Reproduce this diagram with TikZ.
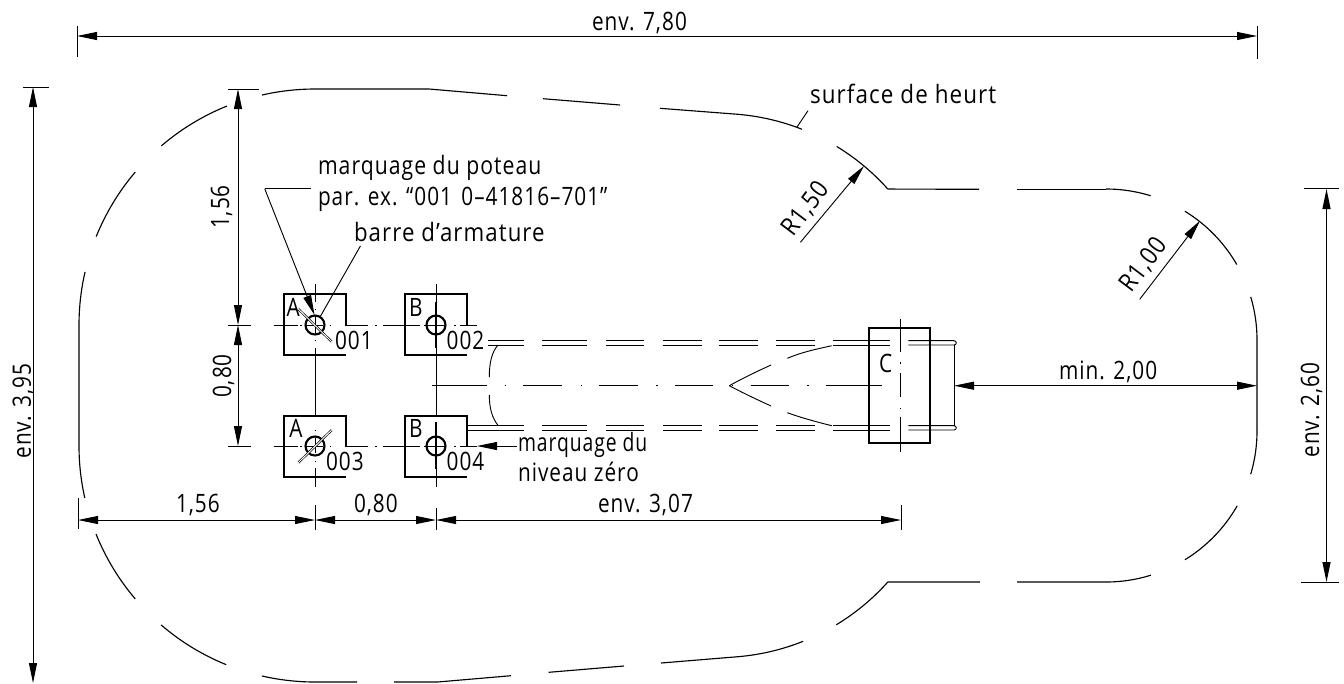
\documentclass[tikz,border=0pt]{standalone}
\usepackage{fontspec}
\setmainfont[FakeStretch=0.82,LetterSpace=4]{Open Sans}
\usetikzlibrary{arrows.meta}
\newcommand{\arcseg}[5]{plot[domain=#4:#5,samples=24,smooth] ({#1+#3*cos(\x)},{#2-#3*sin(\x)})}
\tikzset{
  x=.75pt,y=-.75pt,
  thinl/.style={line width=.7pt,line cap=butt},
  contour/.style={line width=.85pt,line join=round},
  bold/.style={line width=1.6pt,line join=miter},
  cl/.style={line width=.6pt},
  dimtip/.style={-{Triangle[length=15pt,width=6pt]},line width=.7pt},
  dimboth/.style={{Triangle[length=15pt,width=6pt]}-{Triangle[length=15pt,width=6pt]},line width=.7pt},
  txt/.style={inner sep=0,outer sep=0,font=\fontsize{19}{19}\selectfont,anchor=base west,text=black},
  rtxt/.style={inner sep=0,outer sep=0,font=\fontsize{19}{19}\selectfont,anchor=base,rotate=90},
}
\begin{document}
\begin{tikzpicture}
\useasboundingbox (0,0) rectangle (1344,683);
% contour
\begin{scope}[contour]
\draw \arcseg{315}{325}{236}{103}{90} -- (429,89) -- (507,95.7);
\draw (543,98.7) -- (620,105);
\draw (660,108.3) -- (738,114.3);
\draw \arcseg{719}{340}{226.5}{85.2}{68.5};
\draw \arcseg{719}{340}{226.5}{58.7}{41.8} -- (979,189.3) ;
\draw (1017,189.3) -- (1106,189.3);
\draw \arcseg{1106}{340}{151}{90}{72.8};
\draw \arcseg{1106}{340}{151}{58.5}{30};
\draw \arcseg{1106}{340}{151}{16.6}{0} -- (1257,431);
\draw \arcseg{1106}{431}{151}{0}{-16.6};
\draw \arcseg{1106}{431}{151}{-29.7}{-58.5};
\draw \arcseg{1106}{431}{151}{-72.7}{-90} -- (1017,582);
\draw \arcseg{719}{431}{226.5}{-58.8}{-41.8} -- (980,582);
\draw \arcseg{719}{431}{226.5}{-68.2}{-85.2} -- (661,663);
\draw (624,666) -- (548.6,672.3);
\draw (511,675.7) -- (437.5,682) -- (394,682);
\draw \arcseg{315}{446}{236}{257}{270} -- (357,682);
\draw \arcseg{315}{446}{236}{247.9}{229.3};
\draw \arcseg{315}{446}{236}{220.4}{201.9};
\draw \arcseg{315}{446}{236}{192.7}{180} -- (79,325);
\draw \arcseg{315}{325}{236}{180}{167};
\draw \arcseg{315}{325}{236}{158}{139.6};
\draw \arcseg{315}{325}{236}{130.6}{111.9};
\end{scope}
% centre lines
\begin{scope}[cl]
\foreach \yy in {325,446} {
  \draw (273.5,\yy) -- (298,\yy) (300,\yy) -- (301.5,\yy) (306,\yy) -- (323,\yy) (329.5,\yy) -- (331,\yy)
        (345,\yy) -- (368,\yy) (375,\yy) -- (376.5,\yy) (383,\yy) -- (420,\yy) (424,\yy) -- (425.5,\yy)
        (426,\yy) -- (446,\yy) (454,\yy) -- (455.5,\yy) (460,\yy) -- (477,\yy);
}
\foreach \xx in {315,436} {
  \draw (\xx,284) -- (\xx,302) (\xx,308.5) -- (\xx,310) (\xx,316) -- (\xx,334) (\xx,339.5) -- (\xx,341)
        (\xx,348) -- (\xx,416) (\xx,429.5) -- (\xx,431) (\xx,438) -- (\xx,453) (\xx,460.5) -- (\xx,462)
        (\xx,468) -- (\xx,487);
}
\draw (431.7,385.7) -- (486.7,385.7) (504.5,385.7) -- (506,385.7) (523.3,385.7) -- (562.3,385.7)
      (580.5,385.7) -- (582,385.7) (599.3,385.7) -- (637.7,385.7) (656,385.7) -- (657.5,385.7)
      (675,385.7) -- (713.3,385.7) (731.5,385.7) -- (733,385.7) (750.7,385.7) -- (789,385.7)
      (807,385.7) -- (808.5,385.7) (826,385.7) -- (881.7,385.7);
\draw (900,319.3) -- (900,351.7) (900,362) -- (900,363.5) (900,373) -- (900,397) (900,407.5) -- (900,409) (900,416.7) -- (900,451.7);
\end{scope}
% dashed double lines
\begin{scope}[thinl]
\foreach \ya/\yb in {340.7/345,425.7/430} {
  \foreach \xa/\xb in {542/587.3,606/644.3,662.7/701.7,719.3/758.3,776/815,833.3/890} {
    \draw (\xa,\ya) -- (\xb,\ya) (\xa,\yb) -- (\xb,\yb);
  }
}
\draw (488,340.7) -- (524,340.7) (488,345) -- (524,345);
\draw (466.7,425.7) -- (524,425.7) (466.7,430) -- (524,430);
\draw (908.3,340.7) -- (954,340.7) .. controls (957,340.7) and (957,345) .. (954,345) -- (908.3,345);
\draw (908.3,425.7) -- (954,425.7) .. controls (957,425.7) and (957,430) .. (954,430) -- (908.3,430);
\draw (954,345) -- (954,425.7);
\draw (498,345) .. controls (492,352) and (489.3,362) .. (489.3,377);
\draw (489.3,395) .. controls (489.3,408) and (492,418) .. (498.3,425.7);
\draw (729.3,385.7) .. controls (745,377) and (758,371) .. (771,365);
\draw (787.3,358.3) .. controls (802,352) and (817,349) .. (831.7,345.7);
\draw (729.3,385.7) .. controls (745,394) and (758,400) .. (771,406);
\draw (787.3,412.7) .. controls (802,418) and (817,422) .. (831.7,425.7);
\end{scope}
% boxes
\begin{scope}[bold]
\draw (345.7,325) -- (345.7,294.3) -- (284,294.3) -- (284,355.3) -- (345.7,355.3);
\draw (466.7,325) -- (466.7,294.3) -- (405.3,294.3) -- (405.3,355.3) -- (466.7,355.3);
\draw (345.7,446) -- (345.7,415.7) -- (284,415.7) -- (284,476.7) -- (345.7,476.7);
\draw (466.7,446) -- (466.7,415.7) -- (405.3,415.7) -- (405.3,476.7) -- (466.7,476.7);
\draw (869.3,328.3) rectangle (930,442.7);
\draw (315,325) circle (9.5);
\draw (436,325) circle (9.5);
\draw (315,446) circle (9.5);
\draw (436,446) circle (9.5);
\end{scope}
\draw[line width=1.1pt] (436,301.7) -- (436,348);
\draw[line width=1.1pt] (436,421.7) -- (436,469);
\draw[line width=.5pt,double,double distance=.7pt] (298.3,309) -- (331.7,341.7);
\draw[line width=.5pt,double,double distance=.7pt] (298.3,462.7) -- (331.7,430);
% dimensions
\draw[dimboth] (77,36) -- (1257,36);
\draw[thinl] (77,26) -- (77,57) (1257,26) -- (1257,59);
\draw[dimboth] (33,87) -- (33,683);
\draw[thinl] (23,87) -- (49,87);
\draw[dimboth] (238,89) -- (238,325);
\draw[dimboth] (238,325) -- (238,446);
\draw[thinl] (228,89) -- (259,89) (228,325) -- (251,325) (228,446) -- (251,446);
\draw[dimboth] (78,520) -- (315,520);
\draw[dimboth] (315,520) -- (436,520);
\draw[dimboth] (436,520) -- (901,520);
\draw[thinl] (78,498) -- (78,529) (315,505) -- (315,530) (436,508) -- (436,530) (901,505) -- (901,530);
\draw[dimboth] (1326.5,189) -- (1326.5,582);
\draw[thinl] (1304,188.5) -- (1339,188.5) (1301,582.5) -- (1339,582.5);
\draw[dimboth] (1257,385.7) -- (954,385.7);
\draw[dimtip] (800.4,242.3) -- (864,166);
\draw[dimtip] (1139.7,299.3) -- (1200,220.7);
% leaders
\draw[thinl] (311.4,188.7) -- (264.7,188.7);
\draw[dimtip] (264.7,188.7) -- (314.5,315);
\draw[thinl] (360.4,246) -- (320,317);
\draw[thinl] (808,110.7) -- (797,127);
\draw[dimtip] (517,446) -- (477,446);
% labels
\node[txt] (t780) at (592,30) {env. 7,80};
\node[txt,xscale=1.08] (tsurf) at (810,103) {surface de heurt};
\node[txt,xscale=1.02] (tm1) at (318,174) {marquage du poteau};
\node[txt] (tm2) at (318,205) {par. ex. ``001\hspace{7pt}0--41816--701"};
\node[txt,xscale=1.07] (tb) at (354,241.7) {barre d'armature};
\node[rtxt] (t156v) at (229,207) {1,56};
\node[rtxt] (t080v) at (231,376) {0,80};
\node[rtxt] (t395) at (31,411) {env. 3,95};
\node[rtxt] (t260) at (1319,410) {env. 2,60};
\node[txt,anchor=center,rotate=53,xscale=1.06] (r150) at (806,209) {R1,50};
\node[txt,anchor=center,rotate=53,xscale=1.06] (r100) at (1144,265) {R1,00};
\node[txt] (t156h) at (176,512.7) {1,56};
\node[txt] (t080h) at (354,512.7) {0,80};
\node[txt] (t307) at (598,512.7) {env. 3,07};
\node[txt] (tmin) at (1059,379) {min. 2,00};
\node[txt] (tA1) at (286.7,316.7) {A};
\node[txt] (tB2) at (409,316.7) {B};
\node[txt] (tA3) at (289.3,437.7) {A};
\node[txt] (tB4) at (409,437.7) {B};
\node[txt] (t001) at (335,349) {001};
\node[txt] (t002) at (446.7,349) {002};
\node[txt] (t003) at (326,470) {003};
\node[txt] (t004) at (446.7,470) {004};
\node[txt] (tC) at (879,372.3) {C};
\node[txt,xscale=.93] (tn1) at (518,451.7) {marquage du};
\node[txt] (tn2) at (518,481.7) {niveau zéro};
\end{tikzpicture}
\end{document}
